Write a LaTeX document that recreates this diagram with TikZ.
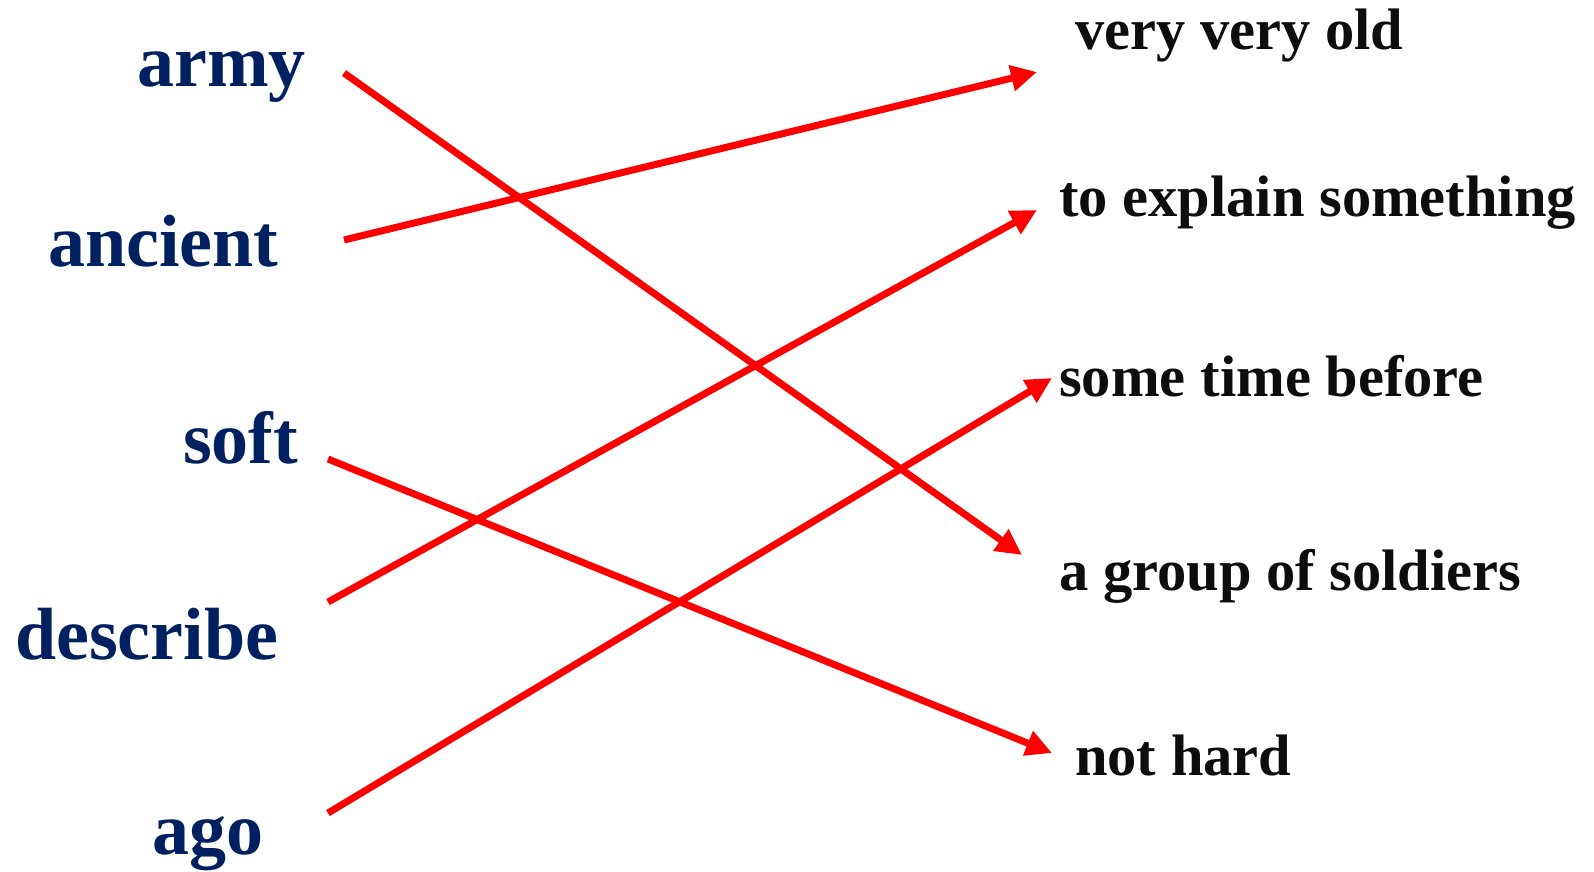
\documentclass[tikz,border=0pt]{standalone}
\usepackage{fontspec}
\setmainfont{Liberation Serif}
\usetikzlibrary{arrows.meta}
\definecolor{navy}{HTML}{002060}
\definecolor{ink}{HTML}{0D0D0D}
\definecolor{arrowred}{HTML}{FF0000}
\tikzset{
  wordL/.style={anchor=base west, inner sep=0pt, text=navy, font=\fontsize{74}{80}\selectfont\bfseries},
  wordR/.style={anchor=base west, inner sep=0pt, text=ink, font=\fontsize{58.5}{64}\selectfont\bfseries},
  link/.style={draw=arrowred, line width=7pt, -{Triangle[length=26pt,width=25pt]}}
}
\begin{document}
\begin{tikzpicture}[x=1pt,y=-1pt]
\useasboundingbox[fill=white] (0,0) rectangle (1594,871);
% left words
\node[wordL] (army) at (137,86) {army};
\node[wordL] (ancient) at (48,266) {ancient};
\node[wordL] (soft) at (183,463) {soft};
\node[wordL] (describe) at (15,659) {describe};
\node[wordL] (ago) at (152,854) {ago};
% right words
\node[wordR] (old) at (1075,49) {very very old};
\node[wordR] (explain) at (1059,216) {to explain something};
\node[wordR] (before) at (1059,396) {some time before};
\node[wordR] (soldiers) at (1059,590) {a group of soldiers};
\node[wordR] (nothard) at (1075,775) {not hard};
% connector ends
\coordinate (armyS) at (344,73);
\coordinate (ancientS) at (344,240);
\coordinate (softS) at (328,459);
\coordinate (describeS) at (328,602);
\coordinate (agoS) at (328,813);
\coordinate (oldE) at (1037,72);
\coordinate (explainE) at (1037,210);
\coordinate (beforeE) at (1052,378);
\coordinate (soldiersE) at (1022,555);
\coordinate (nothardE) at (1052,753);
% connectors
\draw[link] (armyS) -- (soldiersE);
\draw[link] (ancientS) -- (oldE);
\draw[link] (softS) -- (nothardE);
\draw[link] (describeS) -- (explainE);
\draw[link] (agoS) -- (beforeE);
\end{tikzpicture}
\end{document}
